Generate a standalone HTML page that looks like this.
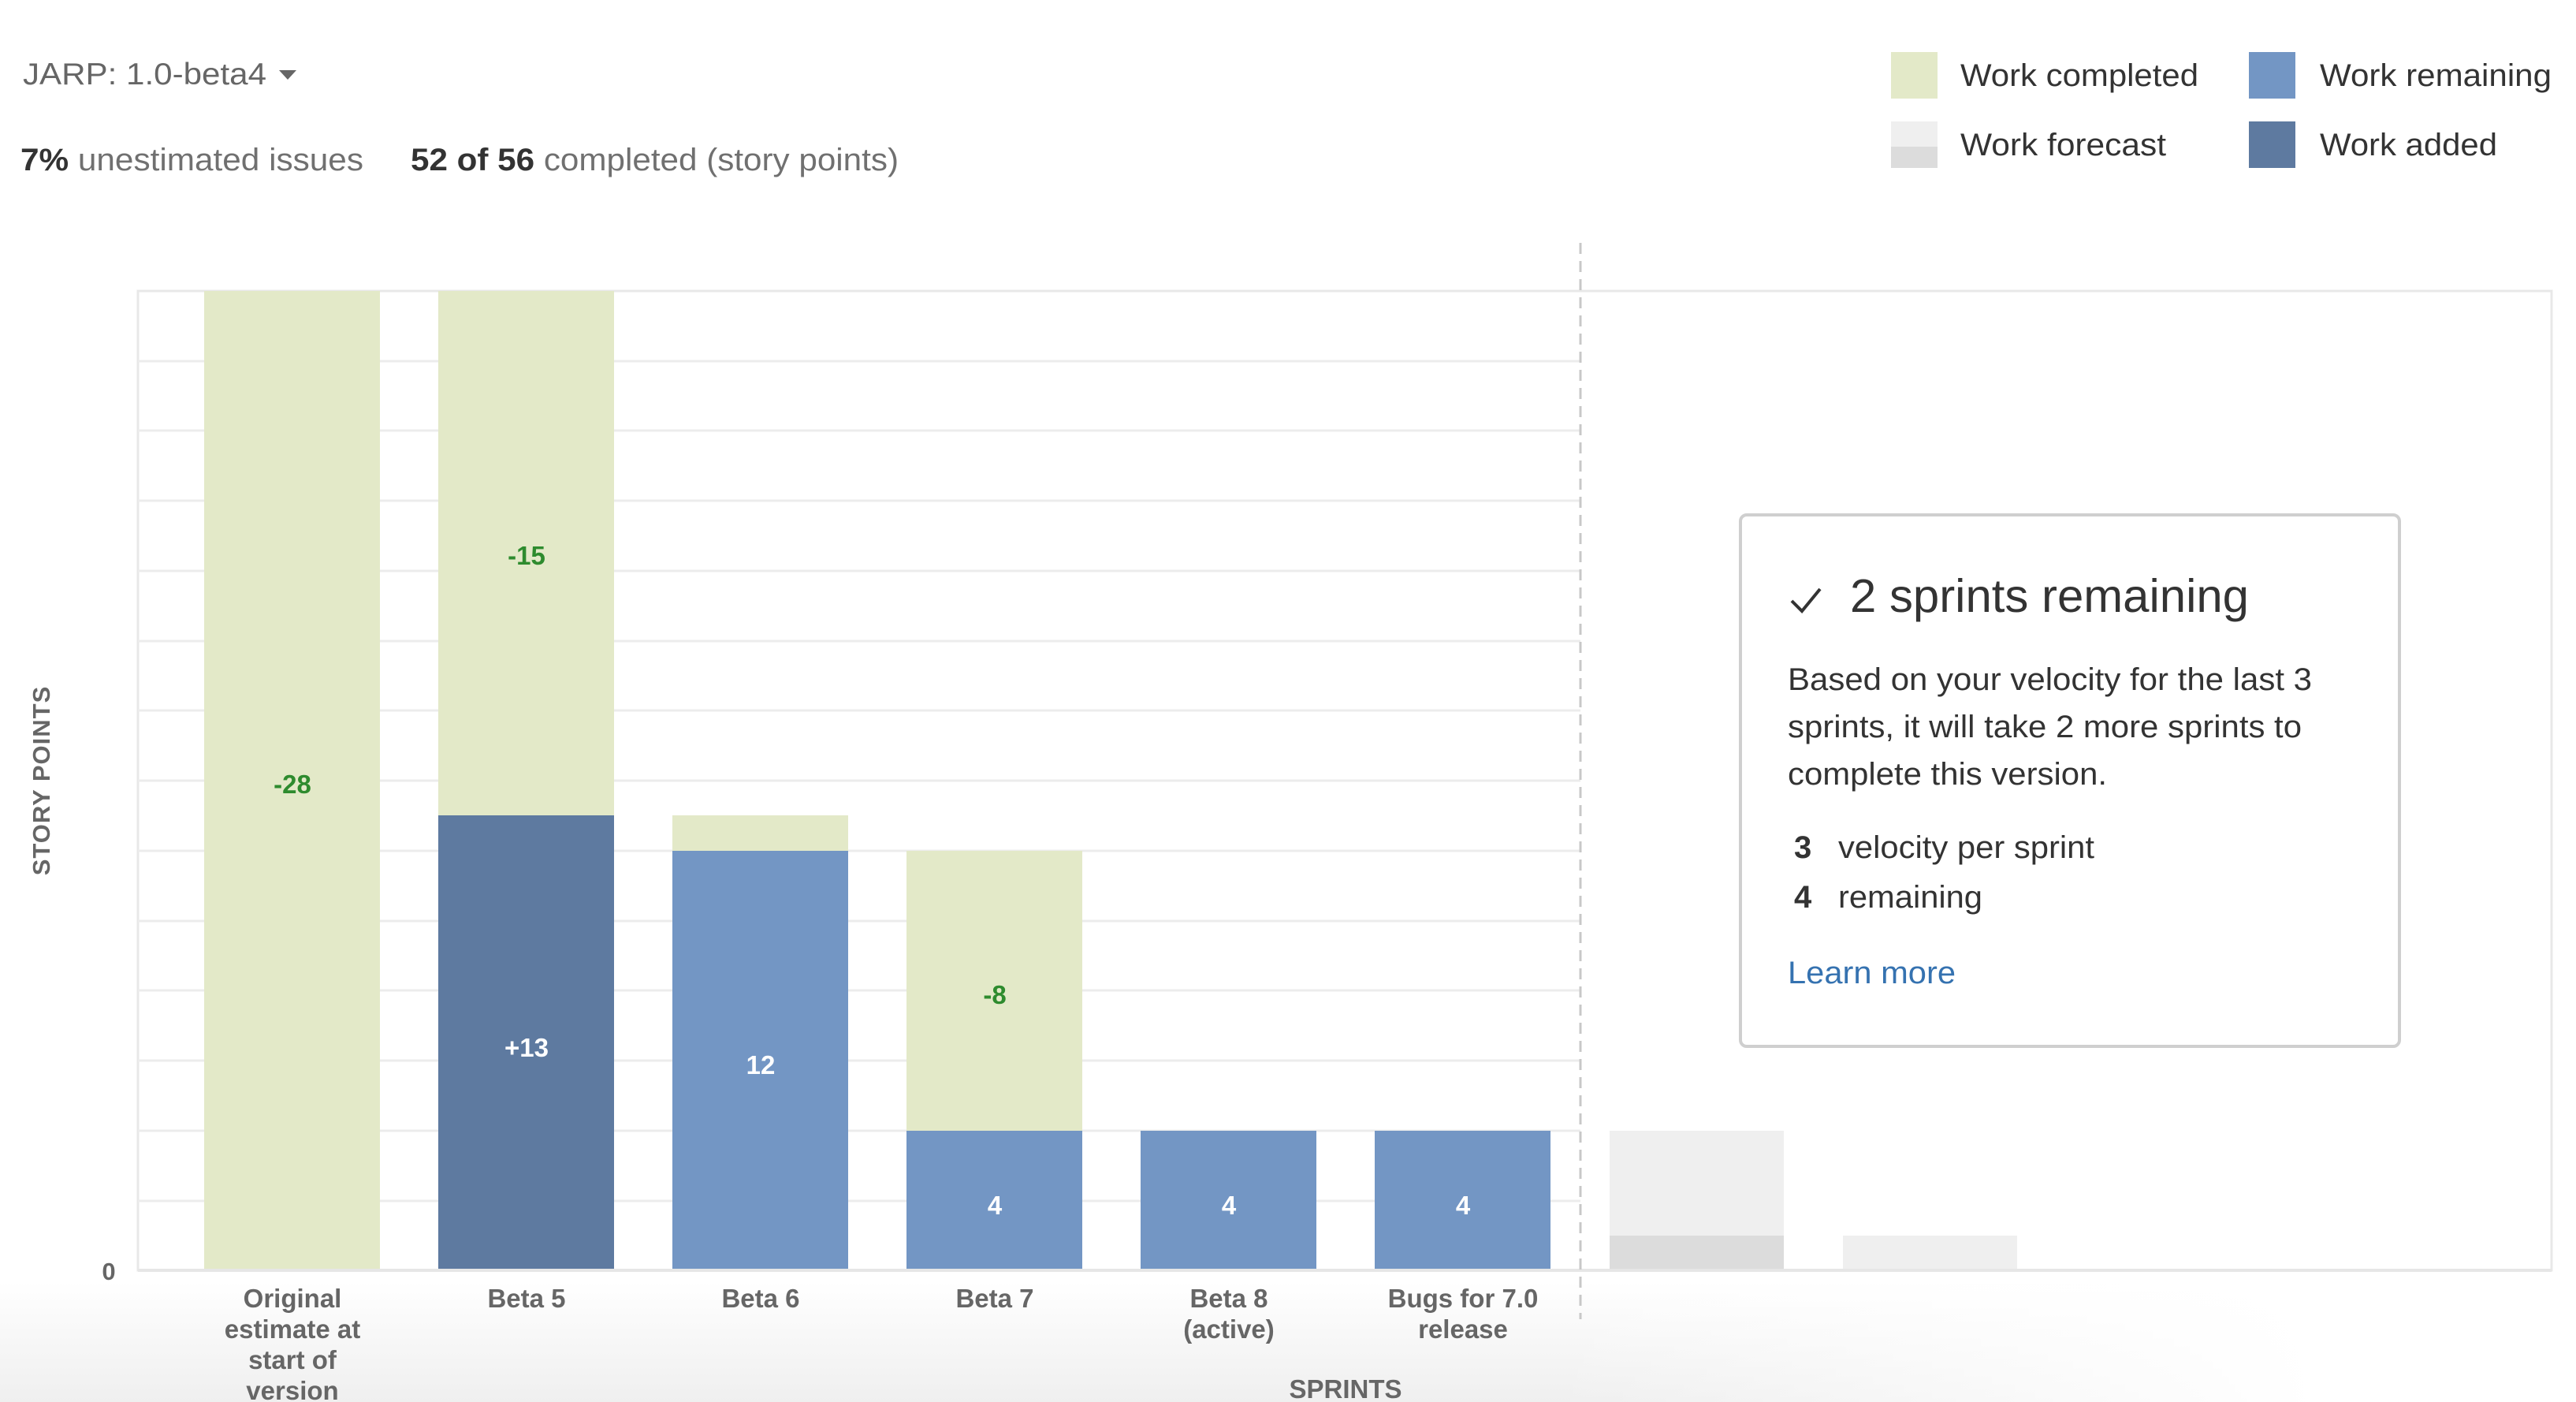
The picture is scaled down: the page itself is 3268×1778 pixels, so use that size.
<!DOCTYPE html>
<html><head><meta charset="utf-8"><style>html,body{margin:0;padding:0;background:#fff}svg{display:block}</style></head>
<body>
<svg width="3268" height="1778" viewBox="0 0 3268 1778" xmlns="http://www.w3.org/2000/svg" font-family="Liberation Sans, Arial, sans-serif">
<defs>
<linearGradient id="bg" x1="0" y1="0" x2="0" y2="1"><stop offset="0" stop-color="#fff"/><stop offset="1" stop-color="#efefef"/></linearGradient>
<linearGradient id="fade" x1="0" y1="0" x2="1" y2="0"><stop offset="0" stop-color="#fff" stop-opacity="0"/><stop offset="0.6" stop-color="#fff" stop-opacity="0"/><stop offset="0.9" stop-color="#fff" stop-opacity="1"/></linearGradient>
</defs>
<rect x="0" y="1625" width="3268" height="153" fill="url(#bg)"/>
<rect x="0" y="1625" width="3268" height="153" fill="url(#fade)"/>
<rect x="175" y="369" width="3062" height="1242" fill="#fff" stroke="#e8e8e8" stroke-width="3"/>
<g stroke="#ececec" stroke-width="3">
<line x1="175" x2="2005" y1="458" y2="458"/><line x1="175" x2="2005" y1="546" y2="546"/>
<line x1="175" x2="2005" y1="635" y2="635"/><line x1="175" x2="2005" y1="724" y2="724"/>
<line x1="175" x2="2005" y1="813" y2="813"/><line x1="175" x2="2005" y1="901" y2="901"/>
<line x1="175" x2="2005" y1="990" y2="990"/><line x1="175" x2="2005" y1="1079" y2="1079"/>
<line x1="175" x2="2005" y1="1168" y2="1168"/><line x1="175" x2="2005" y1="1256" y2="1256"/>
<line x1="175" x2="2005" y1="1345" y2="1345"/><line x1="175" x2="2005" y1="1434" y2="1434"/>
<line x1="175" x2="2005" y1="1523" y2="1523"/>
</g>
<g>
<rect x="259" y="369" width="223" height="1242" fill="#e3e9c8"/>
<rect x="556" y="369" width="223" height="665" fill="#e3e9c8"/>
<rect x="556" y="1034" width="223" height="577" fill="#5e7aa0"/>
<rect x="853" y="1034" width="223" height="45" fill="#e3e9c8"/>
<rect x="853" y="1079" width="223" height="532" fill="#7396c4"/>
<rect x="1150" y="1079" width="223" height="355" fill="#e3e9c8"/>
<rect x="1150" y="1434" width="223" height="177" fill="#7396c4"/>
<rect x="1447" y="1434" width="223" height="177" fill="#7396c4"/>
<rect x="1744" y="1434" width="223" height="177" fill="#7396c4"/>
<rect x="2042" y="1434" width="221" height="177" fill="#efefef"/>
<rect x="2042" y="1567" width="221" height="44" fill="#dcdcdc"/>
<rect x="2338" y="1567" width="221" height="44" fill="#efefef"/>
</g>
<line x1="175" x2="3237" y1="1611" y2="1611" stroke="#e6e6e6" stroke-width="4"/>
<line x1="2005" x2="2005" y1="308" y2="1673" stroke="#c8c8c8" stroke-width="3" stroke-dasharray="14,9"/>
<g font-weight="bold" font-size="33" text-anchor="middle">
<text x="371" y="1006" fill="#2e8b2e">-28</text>
<text x="668" y="716" fill="#2e8b2e">-15</text>
<text x="668" y="1340" fill="#fff">+13</text>
<text x="965" y="1362" fill="#fff">12</text>
<text x="1262" y="1273" fill="#2e8b2e">-8</text>
<text x="1262" y="1540" fill="#fff">4</text>
<text x="1559" y="1540" fill="#fff">4</text>
<text x="1856" y="1540" fill="#fff">4</text>
</g>
<text x="138" y="1623" font-size="31" font-weight="bold" fill="#666" text-anchor="middle">0</text>
<text transform="translate(63,990) rotate(-90)" font-size="31" font-weight="bold" fill="#666" text-anchor="middle" letter-spacing="1">STORY POINTS</text>
<g font-size="33" font-weight="bold" fill="#666" text-anchor="middle">
<text x="371" y="1658">Original</text><text x="371" y="1697">estimate at</text><text x="371" y="1736">start of</text><text x="371" y="1775">version</text>
<text x="668" y="1658">Beta 5</text>
<text x="965" y="1658">Beta 6</text>
<text x="1262" y="1658">Beta 7</text>
<text x="1559" y="1658">Beta 8</text><text x="1559" y="1697">(active)</text>
<text x="1856" y="1658">Bugs for 7.0</text><text x="1856" y="1697">release</text>
<text x="1707" y="1773">SPRINTS</text>
</g>
<text x="29" y="107" font-size="39" fill="#666" textLength="309" lengthAdjust="spacingAndGlyphs">JARP: 1.0-beta4</text>
<path d="M354 89 L376 89 L365 101 Z" fill="#666"/>
<text x="26" y="216" font-size="40" fill="#707070" textLength="435" lengthAdjust="spacingAndGlyphs"><tspan font-weight="bold" fill="#333">7%</tspan> unestimated issues</text>
<text x="521" y="216" font-size="40" fill="#707070" textLength="619" lengthAdjust="spacingAndGlyphs"><tspan font-weight="bold" fill="#333">52 of 56</tspan> completed (story points)</text>
<rect x="2399" y="66" width="59" height="59" fill="#e3e9c8"/>
<text x="2487" y="109" font-size="40" fill="#333" textLength="302" lengthAdjust="spacingAndGlyphs">Work completed</text>
<rect x="2853" y="66" width="59" height="59" fill="#7396c4"/>
<text x="2943" y="109" font-size="40" fill="#333" textLength="294" lengthAdjust="spacingAndGlyphs">Work remaining</text>
<rect x="2399" y="154" width="59" height="59" fill="#efefef"/>
<rect x="2399" y="186" width="59" height="27" fill="#dcdcdc"/>
<text x="2487" y="197" font-size="40" fill="#333" textLength="261" lengthAdjust="spacingAndGlyphs">Work forecast</text>
<rect x="2853" y="154" width="59" height="59" fill="#5e7aa0"/>
<text x="2943" y="197" font-size="40" fill="#333" textLength="225" lengthAdjust="spacingAndGlyphs">Work added</text>
<rect x="2208" y="653" width="836" height="674" rx="8" fill="#fff" stroke="#cfcfcf" stroke-width="4"/>
<path d="M2273 762 L2286 775 L2309 747" fill="none" stroke="#333" stroke-width="4"/>
<text x="2347" y="776" font-size="59" fill="#333" textLength="506" lengthAdjust="spacingAndGlyphs">2 sprints remaining</text>
<g font-size="40" fill="#333">
<text x="2268" y="875" textLength="665" lengthAdjust="spacingAndGlyphs">Based on your velocity for the last 3</text>
<text x="2268" y="935" textLength="652" lengthAdjust="spacingAndGlyphs">sprints, it will take 2 more sprints to</text>
<text x="2268" y="995" textLength="405" lengthAdjust="spacingAndGlyphs">complete this version.</text>
<text x="2276" y="1088" font-weight="bold">3</text><text x="2332" y="1088" textLength="325" lengthAdjust="spacingAndGlyphs">velocity per sprint</text>
<text x="2276" y="1151" font-weight="bold">4</text><text x="2332" y="1151" textLength="183" lengthAdjust="spacingAndGlyphs">remaining</text>
<text x="2268" y="1247" fill="#3572b0" textLength="213" lengthAdjust="spacingAndGlyphs">Learn more</text>
</g>
</svg>
</body></html>
